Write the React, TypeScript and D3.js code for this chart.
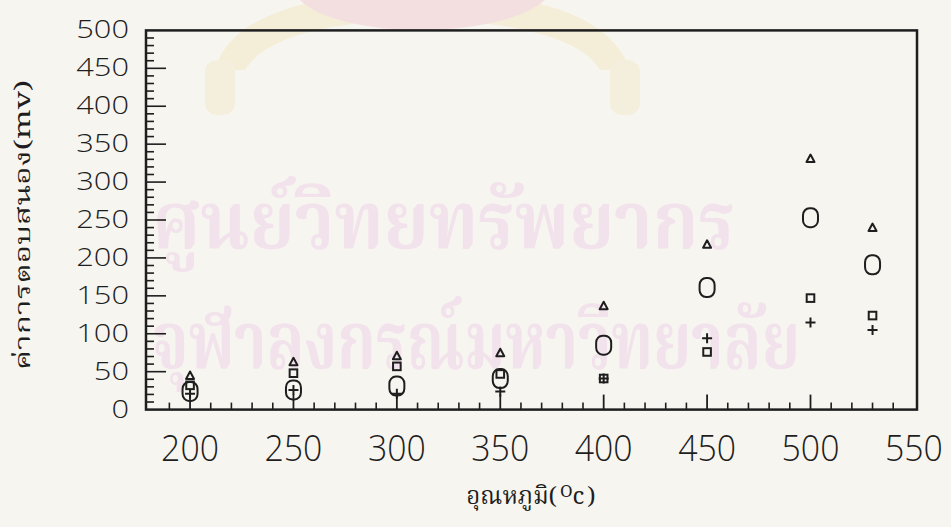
import React from "react";
import * as d3 from "d3";

// Temperatures (°C) at which the response was measured
const temps = [200, 250, 300, 350, 400, 450, 500, 530];

// Response (mV) for each sensor series, one value per temperature
const triangleVals = [45, 63, 71, 75, 137, 218, 331, 240];
const squareVals = [32, 48, 57, 47, 41, 76, 147, 124];
const circleVals = [24, 26, 31, 41, 85, 161, 253, 191];
const plusVals = [21, 26, 21, 24, 41, 94, 115, 105];

const xTickLabels = [200, 250, 300, 350, 400, 450, 500, 550];
const yTickLabels = [0, 50, 100, 150, 200, 250, 300, 350, 400, 450, 500];

const W = 951;
const H = 527;
const INK = "#1e1e1e";
const DIGIT_FONT = "'Open Sans', 'DejaVu Sans', sans-serif";
const THAI_FONT = "'Noto Serif Thai', 'Noto Sans Thai', 'Loma', 'Garuda', 'DejaVu Sans', sans-serif";

export default function App() {
  const x = d3.scaleLinear().domain([178.7, 551.5]).range([146, 917]);
  const y = d3.scaleLinear().domain([0, 500]).range([409.6, 30.4]);

  const [x0, x1] = x.range();
  const [yb, yt] = y.range();

  const xMinor = d3.range(190, 550, 10).filter((v) => v % 50 !== 0);
  const xMajor = d3.range(200, 550, 50);
  const yMinor = d3.range(10, 500, 10).filter((v) => v % 50 !== 0);
  const yMajor = d3.range(50, 500, 50);

  const sw = 2;

  const triangle = (cx: number, cy: number, key: string) => {
    const p = d3.path();
    p.moveTo(cx, cy - 4);
    p.lineTo(cx + 4, cy + 3.5);
    p.lineTo(cx - 4, cy + 3.5);
    p.closePath();
    return <path key={key} d={p.toString()} fill="none" stroke={INK} strokeWidth={sw} strokeLinejoin="round" />;
  };
  const square = (cx: number, cy: number, key: string) => (
    <rect key={key} x={cx - 3.8} y={cy - 3.8} width={7.6} height={7.6} fill="none" stroke={INK} strokeWidth={sw} />
  );
  const circle = (cx: number, cy: number, key: string) => (
    <rect key={key} x={cx - 7.5} y={cy - 9.5} width={15} height={19} rx={6.5} ry={7} fill="none" stroke={INK} strokeWidth={sw} />
  );
  const plus = (cx: number, cy: number, key: string) => (
    <path key={key} d={`M${cx - 5},${cy}H${cx + 5}M${cx},${cy - 5}V${cy + 5}`} stroke={INK} strokeWidth={sw} fill="none" />
  );

  return (
    <svg
      width={W}
      height={H}
      viewBox={`0 0 ${W} ${H}`}
      style={{ position: "absolute", left: 0, top: 0, display: "block" }}
    >
      <rect x={0} y={0} width={W} height={H} fill="#f7f5f0" />

      {/* faint library seal and stamp text behind the chart */}
      <g opacity={0.25}>
        <path
          d="M215,70 C230,10 330,-10 420,-5 C520,-10 610,10 630,70 L600,70 C580,35 500,20 420,20 C340,20 265,35 245,70 Z"
          fill="#eedc96"
        />
        <path d="M300,0 C340,40 500,40 545,0 Z" fill="#e9a2b0" />
        <rect x={205} y={60} width={30} height={55} rx={12} fill="#efe0a8" />
        <rect x={610} y={60} width={30} height={55} rx={12} fill="#efe0a8" />
      </g>
      <g fill="#f2e2ec" fontFamily={THAI_FONT} fontWeight={700}>
        <text x={152} y={248} fontSize={80} textLength={583} lengthAdjust="spacingAndGlyphs">
          ศูนย์วิทยทรัพยากร
        </text>
        <text x={152} y={368} fontSize={80} textLength={648} lengthAdjust="spacingAndGlyphs">
          จุฬาลงกรณ์มหาวิทยาลัย
        </text>
      </g>

      {/* plot frame */}
      <rect x={x0} y={yt} width={x1 - x0} height={yb - yt} fill="none" stroke={INK} strokeWidth={2.5} />

      {/* x ticks */}
      {xMinor.map((v) => (
        <line key={`xm${v}`} x1={x(v)} x2={x(v)} y1={yb} y2={yb - 7} stroke={INK} strokeWidth={1.6} />
      ))}
      {xMajor.map((v) => (
        <line key={`xM${v}`} x1={x(v)} x2={x(v)} y1={yb} y2={yb - 15} stroke={INK} strokeWidth={1.8} />
      ))}

      {/* y ticks */}
      {yMinor.map((v) => (
        <line key={`ym${v}`} x1={x0} x2={x0 + 8} y1={y(v)} y2={y(v)} stroke={INK} strokeWidth={1.6} />
      ))}
      {yMajor.map((v) => (
        <line key={`yM${v}`} x1={x0} x2={x0 + 20} y1={y(v)} y2={y(v)} stroke={INK} strokeWidth={1.6} />
      ))}

      {/* tick labels */}
      <g fill={INK} fontFamily={DIGIT_FONT} fontWeight={300}>
        {xTickLabels.map((v) => (
          <text
            key={`xl${v}`}
            x={x(v)}
            y={461}
            fontSize={37}
            textAnchor="middle"
            textLength={String(v).length * 19.3}
            lengthAdjust="spacingAndGlyphs"
          >
            {v}
          </text>
        ))}
        {yTickLabels.map((v) => (
          <text
            key={`yl${v}`}
            x={129}
            y={y(v) + 8}
            fontSize={26}
            textAnchor="end"
            textLength={String(v).length * 17.6}
            lengthAdjust="spacingAndGlyphs"
          >
            {v}
          </text>
        ))}
      </g>

      {/* axis titles */}
      <text
        transform={`translate(30,225) rotate(-90)`}
        textAnchor="middle"
        fontFamily={THAI_FONT}
        fontSize={21}
        fill={INK}
        textLength={290}
        lengthAdjust="spacingAndGlyphs"
      >
        ค่าการตอบสนอง(mv)
      </text>
      <text x={531} y={504} textAnchor="middle" fontFamily={THAI_FONT} fontSize={24} fill={INK}>
        อุณหภูมิ(
        <tspan dx={3} dy={-7} fontSize={17}>O</tspan>
        <tspan dy={7}>c</tspan>
        <tspan dx={3}>)</tspan>
      </text>

      {/* data markers */}
      <g>
        {temps.map((t, i) => circle(x(t), y(circleVals[i]), `c${t}`))}
        {temps.map((t, i) => square(x(t), y(squareVals[i]), `s${t}`))}
        {temps.map((t, i) => triangle(x(t), y(triangleVals[i]), `t${t}`))}
        {temps.map((t, i) => plus(x(t), y(plusVals[i]), `p${t}`))}
      </g>
    </svg>
  );
}
